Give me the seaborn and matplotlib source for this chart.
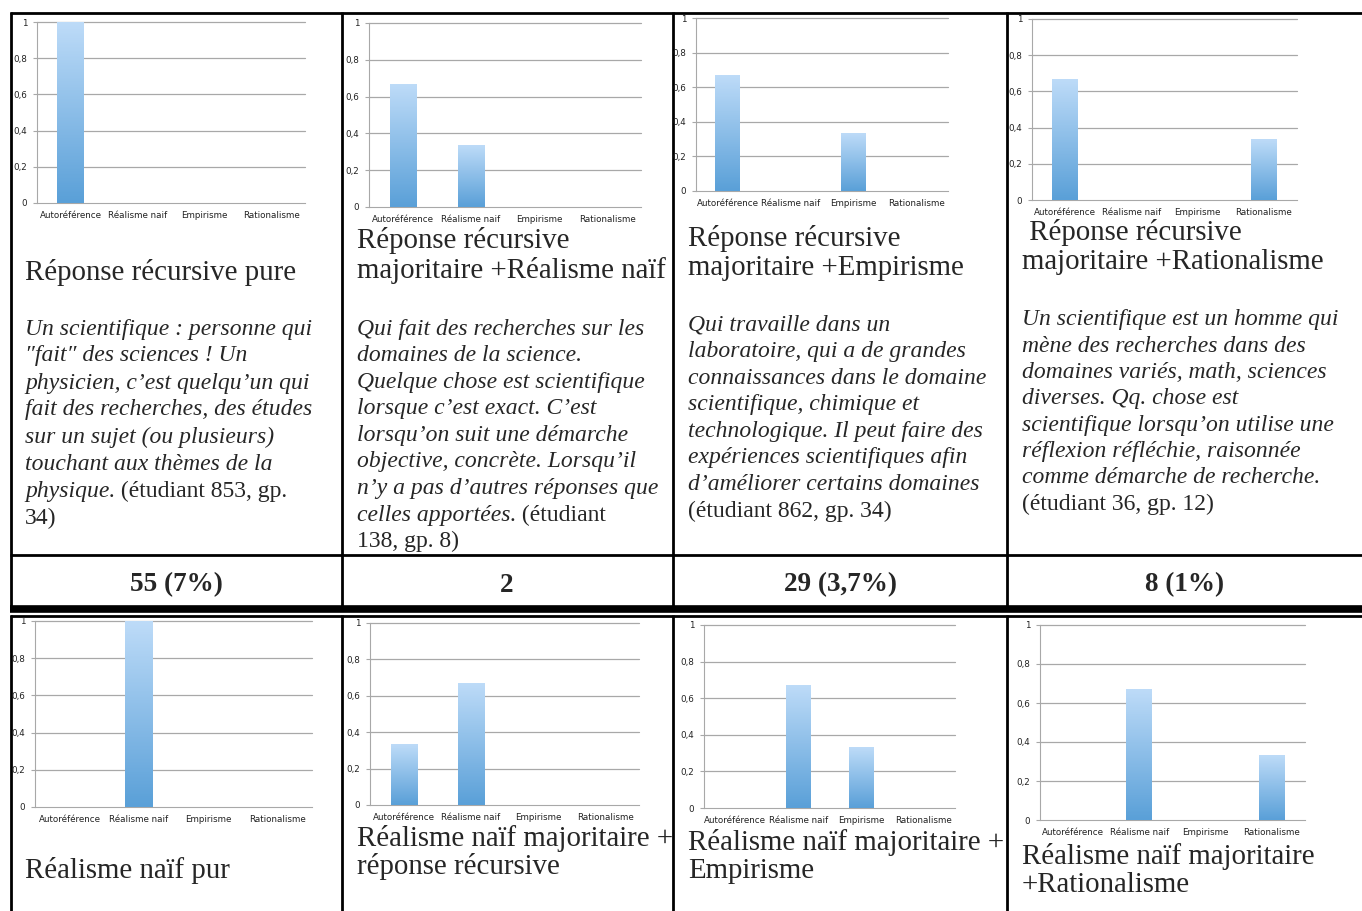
import numpy as np
import matplotlib
matplotlib.use("Agg")
import matplotlib.pyplot as plt
import seaborn as sns
from matplotlib.colors import LinearSegmentedColormap

# data of the small bar charts (share of answers per category)
categories = ["Autoréférence", "Réalisme naif", "Empirisme", "Rationalisme"]
ytick_values = [0, 0.2, 0.4, 0.6, 0.8, 1]
ytick_labels = ["0", "0,2", "0,4", "0,6", "0,8", "1"]

recursive_pure = [1, 0, 0, 0]
recursive_realism = [0.667, 0.333, 0, 0]
recursive_empirism = [0.667, 0, 0.333, 0]
recursive_rationalism = [0.667, 0, 0, 0.333]
realism_pure = [0, 1, 0, 0]
realism_recursive = [0.333, 0.667, 0, 0]
realism_empirism = [0, 0.667, 0.333, 0]
realism_rationalism = [0, 0.667, 0, 0.333]

top_titles = [["Réponse récursive pure"],
              ["Réponse récursive", "majoritaire +Réalisme naïf"],
              ["Réponse récursive", "majoritaire +Empirisme"],
              [" Réponse récursive", "majoritaire +Rationalisme"]]
bottom_titles = [["Réalisme naïf pur"],
                 ["Réalisme naïf majoritaire +", "réponse récursive"],
                 ["Réalisme naïf majoritaire +", "Empirisme"],
                 ["Réalisme naïf majoritaire", "+Rationalisme"]]

# quotes: each line is a list of (text, italic?)
quotes = [
    [[("Un scientifique : personne qui", True)],
     [("\u2033fait\u2033 des sciences ! Un", True)],
     [("physicien, c\u2019est quelqu\u2019un qui", True)],
     [("fait des recherches, des études", True)],
     [("sur un sujet (ou plusieurs)", True)],
     [("touchant aux thèmes de la", True)],
     [("physique.", True), (" (étudiant 853, gp.", False)],
     [("34)", False)]],
    [[("Qui fait des recherches sur les", True)],
     [("domaines de la science.", True)],
     [("Quelque chose est scientifique", True)],
     [("lorsque c\u2019est exact. C\u2019est", True)],
     [("lorsqu\u2019on suit une démarche", True)],
     [("objective, concrète. Lorsqu\u2019il", True)],
     [("n\u2019y a pas d\u2019autres réponses que", True)],
     [("celles apportées.", True), (" (étudiant", False)],
     [("138, gp. 8)", False)]],
    [[("Qui travaille dans un", True)],
     [("laboratoire, qui a de grandes", True)],
     [("connaissances dans le domaine", True)],
     [("scientifique, chimique et", True)],
     [("technologique. Il peut faire des", True)],
     [("expériences scientifiques afin", True)],
     [("d\u2019améliorer certains domaines", True)],
     [("(étudiant 862, gp. 34)", False)]],
    [[("Un scientifique est un homme qui", True)],
     [("mène des recherches dans des", True)],
     [("domaines variés, math, sciences", True)],
     [("diverses. Qq. chose est", True)],
     [("scientifique lorsqu\u2019on utilise une", True)],
     [("réflexion réfléchie, raisonnée", True)],
     [("comme démarche de recherche.", True)],
     [("(étudiant 36, gp. 12)", False)]],
]
counts = ["55 (7%)", "2", "29 (3,7%)", "8 (1%)"]

# layout in pixels
W, H = 1362, 911
text_x = [25, 357, 688, 1022]
count_x = [176, 507, 840, 1185]
top_boxes = [(37, 22, 305, 203), (369, 23, 641, 207), (696, 18, 948, 191), (1032, 19, 1297, 200)]
bottom_boxes = [(35, 621, 312, 807), (370, 623, 639, 805), (704, 625, 955, 808), (1040, 625, 1305, 820)]
top_title_y = [[272], [241, 271], [239, 268], [232, 262]]
bottom_title_y = [[871], [838, 866], [842, 871], [857, 885]]
quote_y0 = [329, 329, 325, 320]
quote_dy = [27, 26.6, 26.6, 26.3]

serif = "Liberation Serif"
bar_top = "#bddbf8"
bar_bottom = "#5aa0d8"
grad_cmap = LinearSegmentedColormap.from_list("xl", [bar_bottom, bar_top])

sns.set_style("white")
fig = plt.figure(figsize=(W / 100, H / 100), dpi=100)

bg = fig.add_axes([0, 0, 1, 1])
bg.set_xlim(0, W)
bg.set_ylim(H, 0)
bg.axis("off")

# table rules
lw = 2
rule = dict(color="black", solid_capstyle="butt")
bg.plot([10, W], [13, 13], lw=lw, **rule)
bg.plot([10, W], [555, 555], lw=lw, **rule)
bg.plot([10, W], [608.5, 608.5], lw=5.5, **rule)
bg.plot([10, W], [616, 616], lw=lw, **rule)
for x in [11, 342, 673, 1007]:
    bg.plot([x, x], [12, 606], lw=lw, **rule)
    bg.plot([x, x], [615, H], lw=lw, **rule)


def bar_chart(box, values):
    x0, y1, x1, y0 = box
    ax = fig.add_axes([x0 / W, 1 - y0 / H, (x1 - x0) / W, (y0 - y1) / H])
    sns.barplot(x=categories, y=values, ax=ax, color=bar_bottom, width=0.39, saturation=1)
    for p in ax.patches:
        h = p.get_height()
        if h <= 0:
            continue
        grad = np.linspace(0, 1, 100).reshape(-1, 1)
        ax.imshow(grad, extent=[p.get_x(), p.get_x() + p.get_width(), 0, h],
                  origin="lower", cmap=grad_cmap, aspect="auto", zorder=3)
        p.set_visible(False)
    ax.set_xlim(-0.5, 3.5)
    ax.set_ylim(0, 1)
    ax.set_yticks(ytick_values)
    ax.set_yticklabels(ytick_labels)
    for v in ytick_values[1:]:
        ax.axhline(v, color="#a8a8a8", lw=0.9, zorder=1, clip_on=False)
    ax.set_xticks(np.arange(-0.5, 4, 1), minor=True)
    ax.tick_params(axis="x", which="major", length=0, pad=6, labelsize=6.3, labelcolor="#222222")
    ax.tick_params(axis="x", which="minor", length=3, width=0.8, color="#a8a8a8", direction="out")
    ax.tick_params(axis="y", length=3, width=0.8, color="#a8a8a8", labelsize=6.3, pad=4,
                   direction="out", left=True, labelcolor="#222222")
    sns.despine(ax=ax)
    ax.spines["left"].set_color("#a8a8a8")
    ax.spines["bottom"].set_color("#a8a8a8")
    ax.set_xlabel("")
    ax.set_ylabel("")
    return ax


top_data = [recursive_pure, recursive_realism, recursive_empirism, recursive_rationalism]
bottom_data = [realism_pure, realism_recursive, realism_empirism, realism_rationalism]
for i in range(4):
    bar_chart(top_boxes[i], top_data[i])
    bar_chart(bottom_boxes[i], bottom_data[i])

for i in range(4):
    for line, y in zip(top_titles[i], top_title_y[i]):
        bg.text(text_x[i], y, line, family=serif, fontsize=20.8, va="center", ha="left")
    for line, y in zip(bottom_titles[i], bottom_title_y[i]):
        bg.text(text_x[i], y, line, family=serif, fontsize=20.8, va="center", ha="left")
    bg.text(count_x[i], 585, counts[i], family=serif, fontsize=19.5, fontweight="bold",
            va="center", ha="center")

renderer = fig.canvas.get_renderer()
for i in range(4):
    for k, segments in enumerate(quotes[i]):
        y = quote_y0[i] + k * quote_dy[i]
        x = text_x[i]
        for txt, italic in segments:
            t = bg.text(x, y, txt, family=serif, fontsize=17,
                        style="italic" if italic else "normal", va="center", ha="left")
            ext = t.get_window_extent(renderer)
            x = bg.transData.inverted().transform((ext.x1, ext.y0))[0]

fig.savefig("out.png", dpi=100)
